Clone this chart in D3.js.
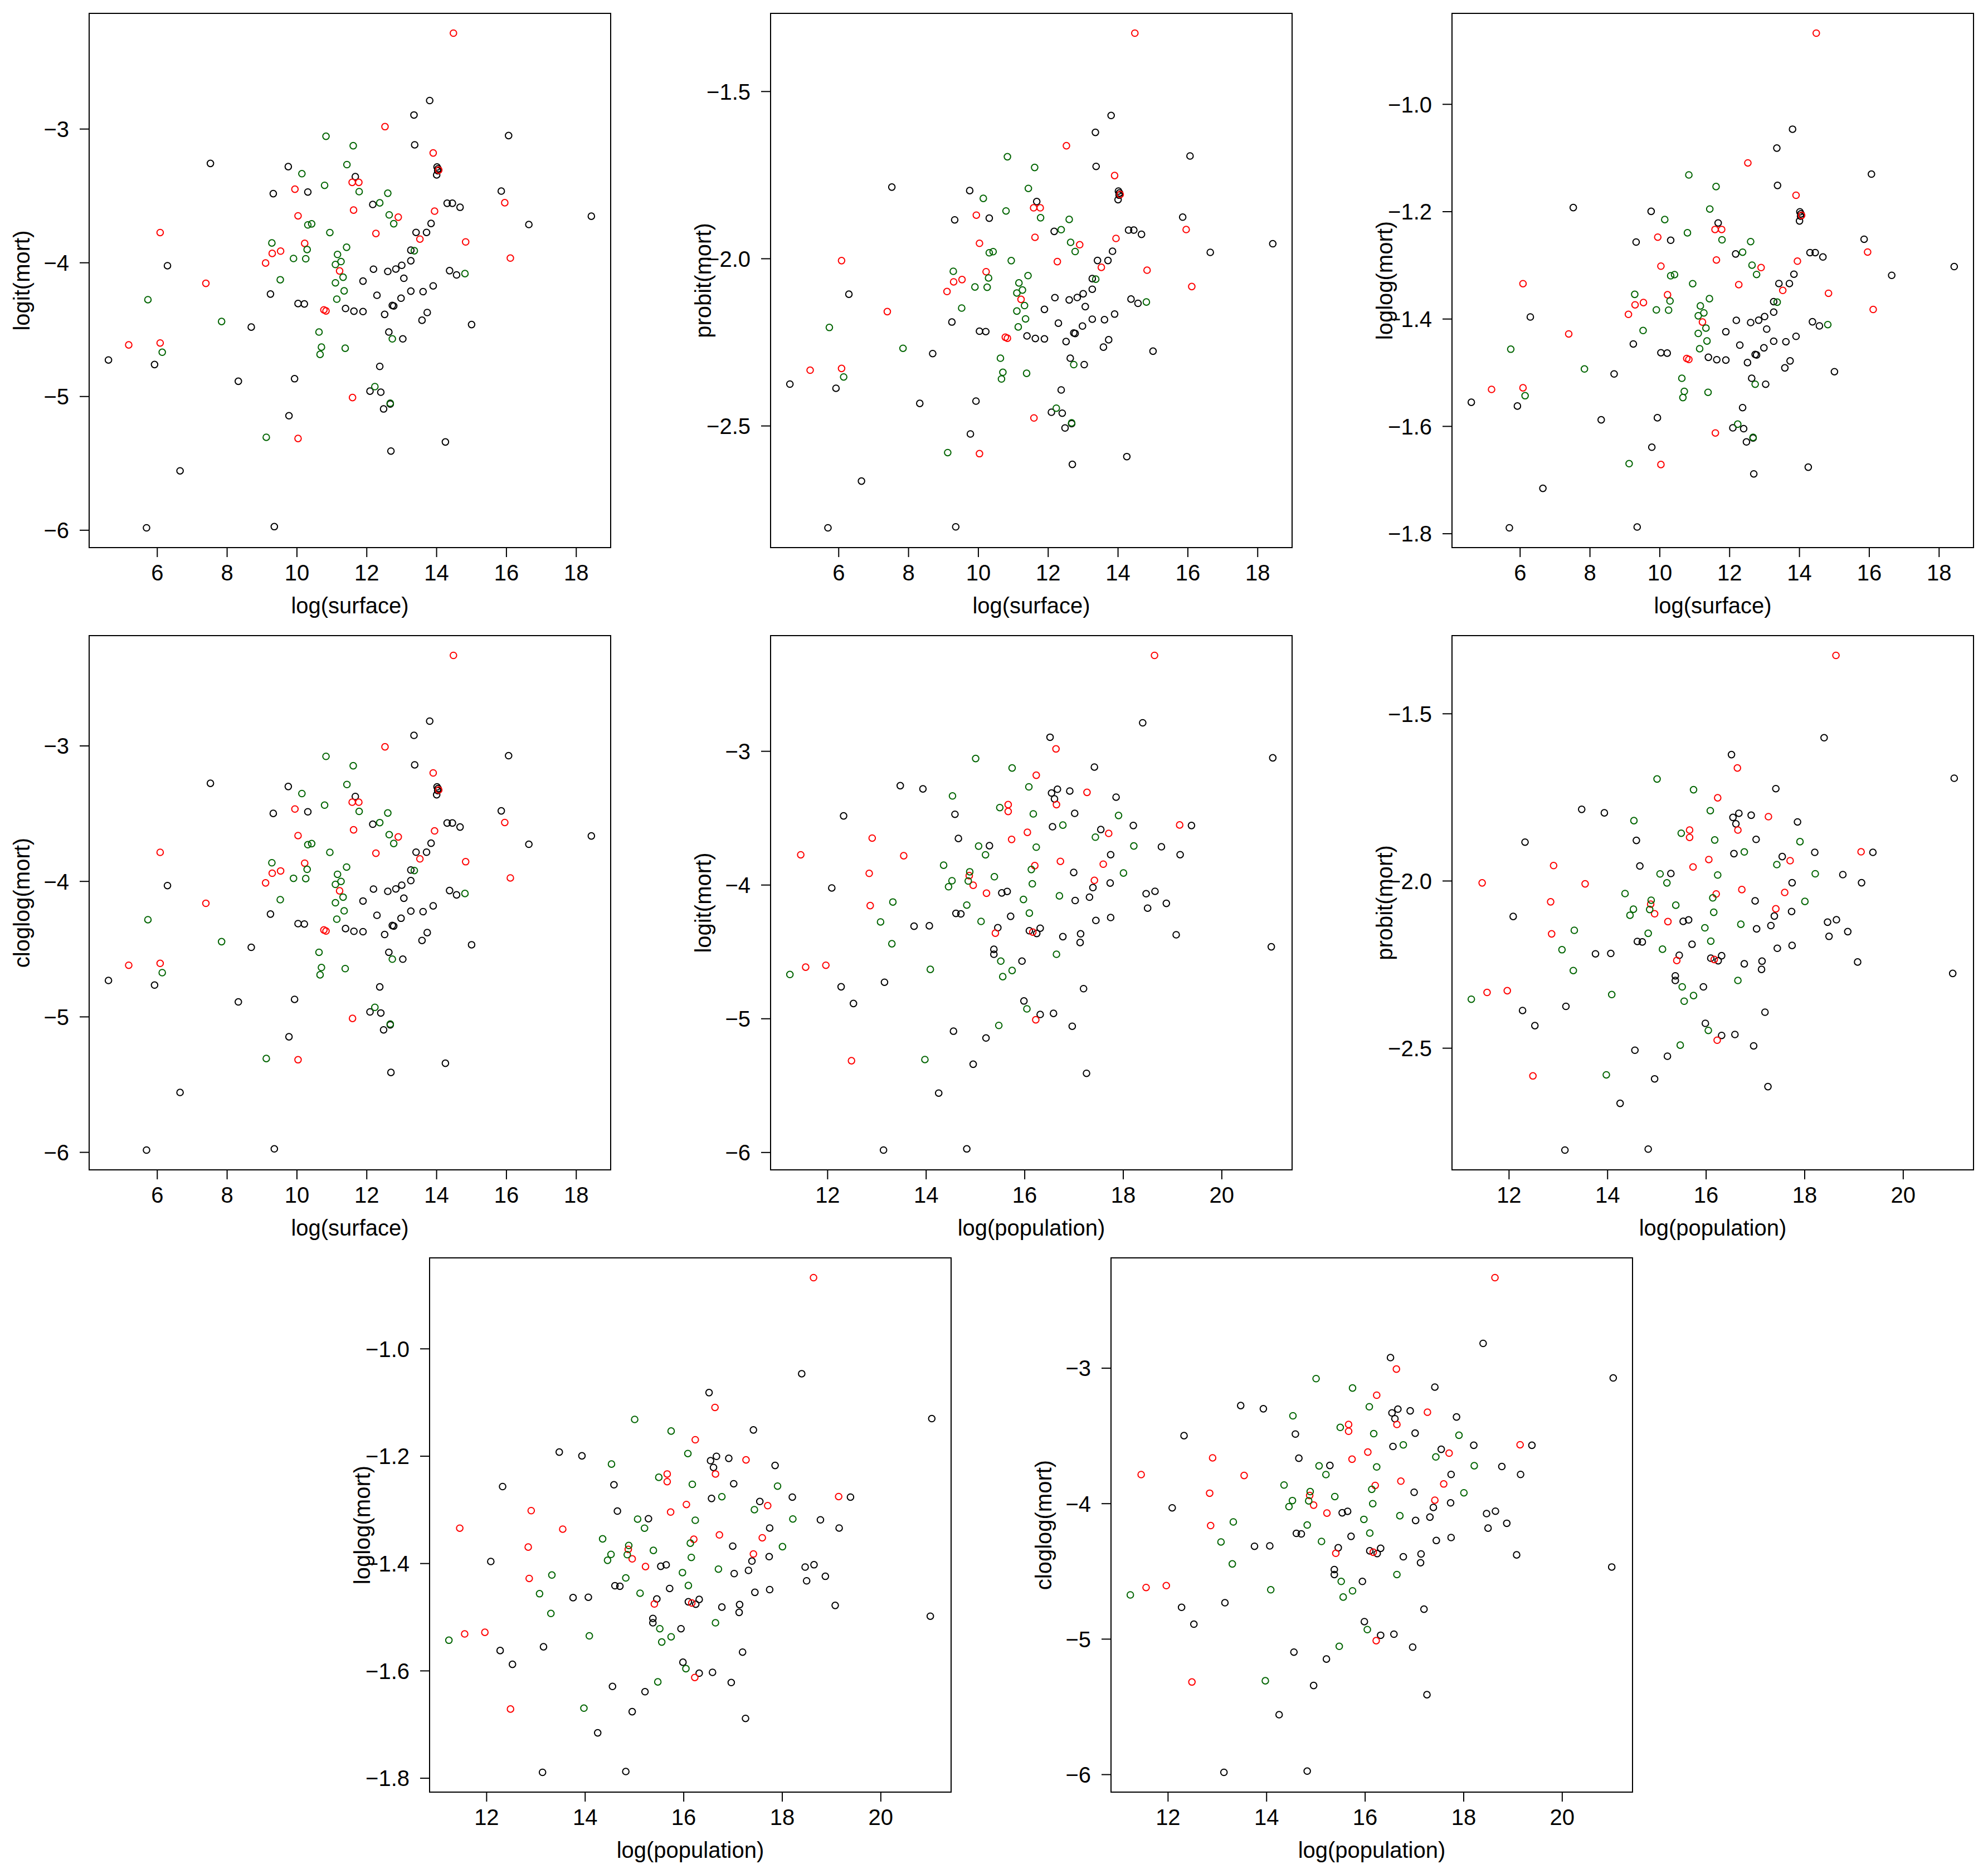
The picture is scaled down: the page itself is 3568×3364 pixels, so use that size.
<!DOCTYPE html>
<html><head><meta charset="utf-8">
<script src="https://cdn.jsdelivr.net/npm/d3@7"></script>
<style>
body{margin:0;background:#fff}
text{font-family:"Liberation Sans",Arial,Helvetica,sans-serif;}
</style>
</head><body>
<svg id="chart" width="3568" height="3364" xmlns="http://www.w3.org/2000/svg"></svg>
<script>
// ---- data (one entry per observation) ----
// group: 1 = black, 2 = red, 3 = green
const surface = [
13.81,13.36,16.07,13.38,7.53,9.76,14.02,14.05,14.04,14.01,11.68,15.86,10.32,9.33,14.31,14.46,12.18,14.68,18.44,13.85,
16.65,13.42,13.72,13.27,13.27,13.01,6.30,12.84,12.20,14.38,12.61,14.58,13.07,11.90,13.91,13.27,13.62,9.25,12.30,12.99,
10.04,10.22,12.74,12.78,11.40,11.64,11.90,13.74,12.52,13.59,15.01,8.70,12.64,13.04,4.61,5.93,12.38,9.94,8.33,12.10,
12.41,12.68,12.49,9.78,14.26,12.70,6.66,9.36,5.70,
14.49,12.53,13.91,14.07,11.59,11.78,9.95,15.96,11.63,13.95,10.04,12.91,6.09,12.27,13.53,14.84,10.23,9.54,9.30,16.12,
9.11,11.23,7.40,10.78,10.84,6.09,5.19,11.60,10.04,
10.84,11.62,11.44,10.15,10.80,11.79,12.61,12.38,12.65,12.78,10.43,10.32,10.95,9.29,11.43,10.30,13.37,11.17,9.91,10.26,
11.27,11.11,14.82,11.33,9.53,11.11,11.36,11.15,5.74,7.85,10.64,12.74,10.71,11.39,6.15,10.67,12.24,12.68,9.13
];
const population = [
18.40,16.52,21.04,17.42,13.48,13.94,16.67,16.92,16.55,17.86,16.61,17.02,14.59,12.33,18.21,19.39,16.57,17.55,14.66,15.29,
18.78,17.75,19.16,17.00,17.74,17.39,12.09,18.65,15.65,15.54,18.47,17.32,17.03,18.88,18.50,14.61,14.71,15.72,17.75,17.45,
14.07,13.76,15.46,16.32,16.10,16.25,17.14,19.08,16.78,17.13,21.01,15.38,15.38,15.95,13.16,12.28,17.20,15.99,12.53,16.59,
16.32,16.97,14.56,15.22,14.96,17.26,14.26,14.83,13.14,
18.64,16.64,16.24,17.27,16.65,15.67,15.67,19.15,16.06,17.71,12.91,15.74,11.46,13.55,16.73,17.60,16.21,12.85,14.88,17.42,
14.96,15.23,12.87,16.17,15.41,11.97,11.56,16.23,12.49,
15.01,15.75,16.09,14.54,15.50,16.18,17.91,16.78,17.44,18.22,15.07,16.24,15.21,14.36,16.14,14.89,18.01,15.39,14.53,14.86,
16.16,14.46,16.71,15.98,13.33,14.83,16.10,15.12,13.08,13.31,16.65,15.52,14.09,15.75,11.24,15.56,16.05,15.48,13.98
];
const logitMort = [
-2.789,-2.897,-3.051,-3.120,-3.259,-3.283,-3.286,-3.299,-3.314,-3.345,-3.358,-3.466,-3.473,-3.485,-3.557,-3.557,-3.566,-3.587,-3.654,-3.708,
-3.716,-3.775,-3.775,-3.908,-3.987,-4.021,-4.024,-4.049,-4.050,-4.061,-4.067,-4.093,-4.118,-4.139,-4.175,-4.214,-4.218,-4.236,-4.245,-4.267,
-4.307,-4.310,-4.321,-4.325,-4.344,-4.364,-4.367,-4.374,-4.388,-4.432,-4.464,-4.483,-4.520,-4.571,-4.729,-4.763,-4.777,-4.869,-4.888,-4.962,
-4.970,-5.058,-5.095,-5.146,-5.342,-5.410,-5.558,-5.975,-5.984,
-2.285,-2.984,-3.181,-3.309,-3.401,-3.401,-3.452,-3.553,-3.608,-3.616,-3.651,-3.661,-3.776,-3.783,-3.825,-3.846,-3.857,-3.915,-3.932,-3.967,
-4.004,-4.063,-4.156,-4.354,-4.362,-4.602,-4.616,-5.010,-5.316,
-3.056,-3.127,-3.268,-3.336,-3.423,-3.470,-3.482,-3.554,-3.644,-3.710,-3.711,-3.719,-3.776,-3.854,-3.886,-3.903,-3.912,-3.940,-3.970,-3.972,
-3.993,-4.015,-4.083,-4.110,-4.129,-4.152,-4.212,-4.274,-4.278,-4.441,-4.520,-4.571,-4.633,-4.641,-4.671,-4.687,-4.928,-5.052,-5.307
];
const group = [
1,1,1,1,1,1,1,1,1,1,1,1,1,1,1,1,1,1,1,1,1,1,1,1,1,1,1,1,1,1,1,1,1,1,1,1,1,1,1,1,
1,1,1,1,1,1,1,1,1,1,1,1,1,1,1,1,1,1,1,1,1,1,1,1,1,1,1,1,1,
2,2,2,2,2,2,2,2,2,2,2,2,2,2,2,2,2,2,2,2,2,2,2,2,2,2,2,2,2,
3,3,3,3,3,3,3,3,3,3,3,3,3,3,3,3,3,3,3,3,3,3,3,3,3,3,3,3,3,3,3,3,3,3,3,3,3,3,3
];

// tick values
const surfaceTicks = [6, 8, 10, 12, 14, 16, 18];
const populationTicks = [12, 14, 16, 18, 20];
const logitTicks = [-6, -5, -4, -3];
const probitTicks = [-2.5, -2.0, -1.5];
const loglogTicks = [-1.8, -1.6, -1.4, -1.2, -1.0];
const cloglogTicks = [-6, -5, -4, -3];

// ---- helpers ----
function qnorm(p){
  const a=[-3.969683028665376e+01,2.209460984245205e+02,-2.759285104469687e+02,1.383577518672690e+02,-3.066479806614716e+01,2.506628277459239e+00];
  const b=[-5.447609879822406e+01,1.615858368580409e+02,-1.556989798598866e+02,6.680131188771972e+01,-1.328068155288572e+01];
  const c=[-7.784894002430293e-03,-3.223964580411365e-01,-2.400758277161838e+00,-2.549732539343734e+00,4.374664141464968e+00,2.938163982698783e+00];
  const d=[7.784695709041462e-03,3.224671290700398e-01,2.445134137142996e+00,3.754408661907416e+00];
  const pl=0.02425;
  if(p<pl){const q=Math.sqrt(-2*Math.log(p));return (((((c[0]*q+c[1])*q+c[2])*q+c[3])*q+c[4])*q+c[5])/((((d[0]*q+d[1])*q+d[2])*q+d[3])*q+1);}
  if(p<=1-pl){const q=p-0.5,r=q*q;return (((((a[0]*r+a[1])*r+a[2])*r+a[3])*r+a[4])*r+a[5])*q/(((((b[0]*r+b[1])*r+b[2])*r+b[3])*r+b[4])*r+1);}
  const q=Math.sqrt(-2*Math.log(1-p));return -(((((c[0]*q+c[1])*q+c[2])*q+c[3])*q+c[4])*q+c[5])/((((d[0]*q+d[1])*q+d[2])*q+d[3])*q+1);
}
const mort = logitMort.map(l => 1/(1+Math.exp(-l)));
const links = {
  logit:   {label:"logit(mort)",   ticks:logitTicks,   dec:0, v: logitMort.slice()},
  probit:  {label:"probit(mort)",  ticks:probitTicks,  dec:1, v: mort.map(p => qnorm(p))},
  loglog:  {label:"loglog(mort)",  ticks:loglogTicks,  dec:1, v: mort.map(p => -Math.log(-Math.log(p)))},
  cloglog: {label:"cloglog(mort)", ticks:cloglogTicks, dec:0, v: mort.map(p => Math.log(-Math.log(1-p)))}
};
const covars = {
  surface:    {label:"log(surface)",    ticks:surfaceTicks,    v: surface},
  population: {label:"log(population)", ticks:populationTicks, v: population}
};
const colour = {1:"#000000", 2:"#ff0000", 3:"#006400"};
const fmt = dec => v => d3.format("." + dec + "f")(v).replace("-", "\u2212");
function padded(arr){ const [a,b] = d3.extent(arr); const d=(b-a)*0.04; return [a-d, b+d]; }

// ---- layout ----
const W = 936, H = 959;
const panels = [
  {x:"surface",    y:"logit",   left:160,  top:24},
  {x:"surface",    y:"probit",  left:1383, top:24},
  {x:"surface",    y:"loglog",  left:2606, top:24},
  {x:"surface",    y:"cloglog", left:160,  top:1141},
  {x:"population", y:"logit",   left:1383, top:1141},
  {x:"population", y:"probit",  left:2606, top:1141},
  {x:"population", y:"loglog",  left:771,  top:2258},
  {x:"population", y:"cloglog", left:1994, top:2258}
];

const svg = d3.select("#chart");
svg.append("rect").attr("width",3568).attr("height",3364).attr("fill","#fff");
const order = d3.range(surface.length);

panels.forEach(p => {
  const cx = covars[p.x], ly = links[p.y];
  const x = d3.scaleLinear().domain(padded(cx.v)).range([p.left, p.left + W]);
  const y = d3.scaleLinear().domain(padded(ly.v)).range([p.top + H, p.top]);
  const g = svg.append("g");

  // points
  g.append("g").selectAll("circle").data(order).join("circle")
    .attr("cx", i => x(cx.v[i])).attr("cy", i => y(ly.v[i])).attr("r", 5.8)
    .attr("fill", "none").attr("stroke", i => colour[group[i]]).attr("stroke-width", 2);

  // axes
  const ax = g.append("g").attr("transform", `translate(0,${p.top + H})`)
    .call(d3.axisBottom(x).tickValues(cx.ticks).tickSize(17).tickPadding(14).tickFormat(d3.format("d")));
  const ay = g.append("g").attr("transform", `translate(${p.left},0)`)
    .call(d3.axisLeft(y).tickValues(ly.ticks).tickSize(17).tickPadding(19).tickFormat(fmt(ly.dec)));
  [ax, ay].forEach(a => {
    a.select(".domain").remove();
    a.selectAll("line").attr("stroke", "#000").attr("stroke-width", 2);
    a.selectAll("text").attr("font-size", 40).attr("fill", "#000")
      .attr("font-family", "'Liberation Sans', Arial, sans-serif");
  });
  ay.selectAll("text").attr("dy", "0.36em");

  // box
  g.append("rect").attr("x", p.left).attr("y", p.top).attr("width", W).attr("height", H)
    .attr("fill", "none").attr("stroke", "#000").attr("stroke-width", 2);

  // titles
  g.append("text").attr("x", p.left + W/2).attr("y", p.top + H + 118)
    .attr("text-anchor", "middle").attr("font-size", 40).text(cx.label);
  g.append("text").attr("transform", `translate(${p.left - 107},${p.top + H/2}) rotate(-90)`)
    .attr("text-anchor", "middle").attr("font-size", 40).text(ly.label);
});
</script>
</body></html>
